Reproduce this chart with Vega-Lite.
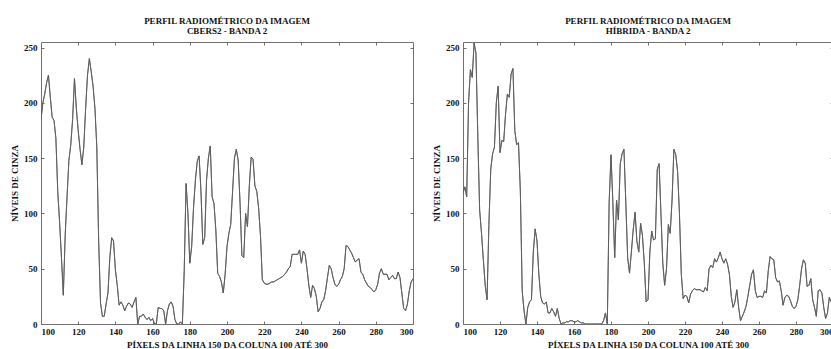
{
  "$schema": "https://vega.github.io/schema/vega-lite/v6.json",
  "padding": {"left": 10, "top": 16, "right": 0, "bottom": 0},
  "background": "white",
  "config": {
    "font": "Liberation Serif",
    "view": {"stroke": "#707070", "strokeWidth": 1},
    "axis": {
      "labelFont": "Liberation Serif",
      "labelFontWeight": "bold",
      "labelFontSize": 9,
      "labelColor": "#111",
      "titleFont": "Liberation Serif",
      "titleFontWeight": "bold",
      "titleFontSize": 9,
      "titleColor": "#111",
      "grid": false,
      "domain": false,
      "tickColor": "#707070",
      "tickSize": 3,
      "offset": -3
    },
    "axisX": {"labelPadding": 3},
    "axisY": {"labelPadding": 4},
    "title": {
      "font": "Liberation Serif",
      "fontWeight": "bold",
      "fontSize": 9,
      "color": "#111",
      "lineHeight": 10,
      "offset": 6
    }
  },
  "data": {"values": [
    {"p":100,"cbers":185,"hib":118},{"p":101,"cbers":200,"hib":124},{"p":102,"cbers":208,"hib":115},{"p":103,"cbers":218,"hib":200},{"p":104,"cbers":225,"hib":230},
    {"p":105,"cbers":205,"hib":223},{"p":106,"cbers":187,"hib":254},{"p":107,"cbers":184,"hib":245},{"p":108,"cbers":168,"hib":170},{"p":109,"cbers":120,"hib":103},
    {"p":110,"cbers":92,"hib":82},{"p":111,"cbers":60,"hib":58},{"p":112,"cbers":26,"hib":35},{"p":113,"cbers":80,"hib":22},{"p":114,"cbers":115,"hib":90},
    {"p":115,"cbers":148,"hib":140},{"p":116,"cbers":162,"hib":154},{"p":117,"cbers":185,"hib":160},{"p":118,"cbers":222,"hib":200},{"p":119,"cbers":195,"hib":215},
    {"p":120,"cbers":175,"hib":155},{"p":121,"cbers":158,"hib":166},{"p":122,"cbers":144,"hib":165},{"p":123,"cbers":160,"hib":190},{"p":124,"cbers":195,"hib":208},
    {"p":125,"cbers":225,"hib":205},{"p":126,"cbers":240,"hib":226},{"p":127,"cbers":228,"hib":231},{"p":128,"cbers":215,"hib":175},{"p":129,"cbers":195,"hib":162},
    {"p":130,"cbers":160,"hib":164},{"p":131,"cbers":75,"hib":120},{"p":132,"cbers":19,"hib":30},{"p":133,"cbers":7,"hib":12},{"p":134,"cbers":7,"hib":0},
    {"p":135,"cbers":18,"hib":15},{"p":136,"cbers":28,"hib":20},{"p":137,"cbers":60,"hib":22},{"p":138,"cbers":78,"hib":65},{"p":139,"cbers":75,"hib":86},
    {"p":140,"cbers":49,"hib":75},{"p":141,"cbers":35,"hib":45},{"p":142,"cbers":17,"hib":25},{"p":143,"cbers":20,"hib":19},{"p":144,"cbers":17,"hib":18},
    {"p":145,"cbers":12,"hib":20},{"p":146,"cbers":16,"hib":10},{"p":147,"cbers":19,"hib":10},{"p":148,"cbers":18,"hib":14},{"p":149,"cbers":15,"hib":11},
    {"p":150,"cbers":20,"hib":7},{"p":151,"cbers":24,"hib":14},{"p":152,"cbers":0,"hib":5},{"p":153,"cbers":7,"hib":0},{"p":154,"cbers":7,"hib":1},
    {"p":155,"cbers":9,"hib":1},{"p":156,"cbers":6,"hib":2},{"p":157,"cbers":4,"hib":2},{"p":158,"cbers":6,"hib":3},{"p":159,"cbers":3,"hib":3},
    {"p":160,"cbers":5,"hib":2},{"p":161,"cbers":0,"hib":2},{"p":162,"cbers":0,"hib":3},{"p":163,"cbers":15,"hib":2},{"p":164,"cbers":14,"hib":1},
    {"p":165,"cbers":14,"hib":1},{"p":166,"cbers":12,"hib":0},{"p":167,"cbers":0,"hib":0},{"p":168,"cbers":12,"hib":0},{"p":169,"cbers":18,"hib":0},
    {"p":170,"cbers":20,"hib":0},{"p":171,"cbers":16,"hib":0},{"p":172,"cbers":4,"hib":0},{"p":173,"cbers":0,"hib":0},{"p":174,"cbers":0,"hib":0},
    {"p":175,"cbers":2,"hib":0},{"p":176,"cbers":0,"hib":3},{"p":177,"cbers":48,"hib":10},{"p":178,"cbers":127,"hib":0},{"p":179,"cbers":100,"hib":110},
    {"p":180,"cbers":55,"hib":153},{"p":181,"cbers":70,"hib":110},{"p":182,"cbers":105,"hib":60},{"p":183,"cbers":130,"hib":112},{"p":184,"cbers":147,"hib":94},
    {"p":185,"cbers":152,"hib":145},{"p":186,"cbers":120,"hib":154},{"p":187,"cbers":72,"hib":158},{"p":188,"cbers":78,"hib":110},{"p":189,"cbers":130,"hib":60},
    {"p":190,"cbers":150,"hib":46},{"p":191,"cbers":161,"hib":65},{"p":192,"cbers":115,"hib":85},{"p":193,"cbers":109,"hib":101},{"p":194,"cbers":85,"hib":75},
    {"p":195,"cbers":46,"hib":65},{"p":196,"cbers":43,"hib":91},{"p":197,"cbers":38,"hib":80},{"p":198,"cbers":28,"hib":55},{"p":199,"cbers":45,"hib":20},
    {"p":200,"cbers":70,"hib":22},{"p":201,"cbers":82,"hib":65},{"p":202,"cbers":90,"hib":84},{"p":203,"cbers":120,"hib":76},{"p":204,"cbers":150,"hib":77},
    {"p":205,"cbers":158,"hib":140},{"p":206,"cbers":148,"hib":145},{"p":207,"cbers":110,"hib":100},{"p":208,"cbers":62,"hib":55},{"p":209,"cbers":60,"hib":35},
    {"p":210,"cbers":100,"hib":50},{"p":211,"cbers":88,"hib":90},{"p":212,"cbers":125,"hib":82},{"p":213,"cbers":151,"hib":112},{"p":214,"cbers":149,"hib":158},
    {"p":215,"cbers":125,"hib":153},{"p":216,"cbers":120,"hib":138},{"p":217,"cbers":105,"hib":100},{"p":218,"cbers":80,"hib":45},{"p":219,"cbers":40,"hib":23},
    {"p":220,"cbers":37,"hib":26},{"p":221,"cbers":36,"hib":25},{"p":222,"cbers":36,"hib":19},{"p":223,"cbers":37,"hib":27},{"p":224,"cbers":38,"hib":30},
    {"p":225,"cbers":38,"hib":32},{"p":226,"cbers":39,"hib":31},{"p":227,"cbers":40,"hib":31},{"p":228,"cbers":41,"hib":31},{"p":229,"cbers":42,"hib":30},
    {"p":230,"cbers":43,"hib":29},{"p":231,"cbers":45,"hib":33},{"p":232,"cbers":47,"hib":30},{"p":233,"cbers":50,"hib":50},{"p":234,"cbers":52,"hib":53},
    {"p":235,"cbers":63,"hib":51},{"p":236,"cbers":63,"hib":59},{"p":237,"cbers":63,"hib":56},{"p":238,"cbers":63,"hib":60},{"p":239,"cbers":67,"hib":65},
    {"p":240,"cbers":55,"hib":59},{"p":241,"cbers":66,"hib":55},{"p":242,"cbers":63,"hib":59},{"p":243,"cbers":50,"hib":54},{"p":244,"cbers":35,"hib":45},
    {"p":245,"cbers":24,"hib":25},{"p":246,"cbers":35,"hib":15},{"p":247,"cbers":32,"hib":20},{"p":248,"cbers":25,"hib":31},{"p":249,"cbers":11,"hib":15},
    {"p":250,"cbers":14,"hib":3},{"p":251,"cbers":20,"hib":7},{"p":252,"cbers":22,"hib":11},{"p":253,"cbers":30,"hib":16},{"p":254,"cbers":42,"hib":25},
    {"p":255,"cbers":53,"hib":35},{"p":256,"cbers":50,"hib":45},{"p":257,"cbers":42,"hib":49},{"p":258,"cbers":36,"hib":30},{"p":259,"cbers":34,"hib":24},
    {"p":260,"cbers":36,"hib":25},{"p":261,"cbers":40,"hib":25},{"p":262,"cbers":43,"hib":24},{"p":263,"cbers":50,"hib":30},{"p":264,"cbers":71,"hib":28},
    {"p":265,"cbers":70,"hib":48},{"p":266,"cbers":67,"hib":61},{"p":267,"cbers":64,"hib":59},{"p":268,"cbers":60,"hib":58},{"p":269,"cbers":56,"hib":42},
    {"p":270,"cbers":58,"hib":38},{"p":271,"cbers":59,"hib":39},{"p":272,"cbers":47,"hib":30},{"p":273,"cbers":45,"hib":17},{"p":274,"cbers":40,"hib":24},
    {"p":275,"cbers":37,"hib":26},{"p":276,"cbers":34,"hib":25},{"p":277,"cbers":33,"hib":21},{"p":278,"cbers":31,"hib":16},{"p":279,"cbers":29,"hib":14},
    {"p":280,"cbers":31,"hib":16},{"p":281,"cbers":36,"hib":22},{"p":282,"cbers":46,"hib":35},{"p":283,"cbers":50,"hib":50},{"p":284,"cbers":45,"hib":58},
    {"p":285,"cbers":45,"hib":55},{"p":286,"cbers":45,"hib":34},{"p":287,"cbers":40,"hib":35},{"p":288,"cbers":42,"hib":41},{"p":289,"cbers":44,"hib":22},
    {"p":290,"cbers":41,"hib":15},{"p":291,"cbers":41,"hib":7},{"p":292,"cbers":47,"hib":30},{"p":293,"cbers":42,"hib":31},{"p":294,"cbers":28,"hib":28},
    {"p":295,"cbers":14,"hib":15},{"p":296,"cbers":12,"hib":5},{"p":297,"cbers":18,"hib":10},{"p":298,"cbers":30,"hib":24},{"p":299,"cbers":38,"hib":20},
    {"p":300,"cbers":41,"hib":18}
  ]},
  "spacing": 18,
  "hconcat": [
    {
      "width": 372,
      "height": 282,
      "title": {"text": ["PERFIL RADIOMÉTRICO DA IMAGEM", "CBERS2 - BANDA 2"]},
      "layer": [
        {
          "mark": {"type": "line", "color": "#5c5c5c", "strokeWidth": 0.9, "clip": true},
          "encoding": {
            "x": {"field": "p", "type": "quantitative", "scale": {"domain": [100, 300], "nice": false},
                  "axis": {"orient": "bottom", "values": [100,120,140,160,180,200,220,240,260,280,300], "title": "PÍXELS DA LINHA 150 DA COLUNA 100 ATÉ 300", "titlePadding": 4}},
            "y": {"field": "cbers", "type": "quantitative", "scale": {"domain": [0, 255], "nice": false},
                  "axis": {"orient": "left", "values": [0,50,100,150,200,250], "title": "NÍVEIS DE CINZA", "titlePadding": 4}}
          }
        },
        {
          "mark": {"type": "line", "color": "#5c5c5c", "strokeWidth": 0.9, "clip": true},
          "encoding": {
            "x": {"field": "p", "type": "quantitative", "axis": {"orient": "top", "values": [120,140,160,180,200,220,240,260,280], "labels": false, "title": null}},
            "y": {"field": "cbers", "type": "quantitative", "axis": {"orient": "right", "values": [50,100,150,200,250], "labels": false, "title": null}}
          }
        }
      ],
      "resolve": {"axis": {"x": "independent", "y": "independent"}}
    },
    {
      "width": 370,
      "height": 282,
      "title": {"text": ["PERFIL RADIOMÉTRICO DA IMAGEM", "HÍBRIDA - BANDA 2"]},
      "layer": [
        {
          "mark": {"type": "line", "color": "#5c5c5c", "strokeWidth": 0.9, "clip": true},
          "encoding": {
            "x": {"field": "p", "type": "quantitative", "scale": {"domain": [100, 300], "nice": false},
                  "axis": {"orient": "bottom", "values": [100,120,140,160,180,200,220,240,260,280,300], "title": "PÍXELS DA LINHA 150 DA COLUNA 100 ATÉ 300", "titlePadding": 4}},
            "y": {"field": "hib", "type": "quantitative", "scale": {"domain": [0, 255], "nice": false},
                  "axis": {"orient": "left", "values": [0,50,100,150,200,250], "title": "NÍVEIS DE CINZA", "titlePadding": 4}}
          }
        },
        {
          "mark": {"type": "line", "color": "#5c5c5c", "strokeWidth": 0.9, "clip": true},
          "encoding": {
            "x": {"field": "p", "type": "quantitative", "axis": {"orient": "top", "values": [120,140,160,180,200,220,240,260,280], "labels": false, "title": null}},
            "y": {"field": "hib", "type": "quantitative", "axis": {"orient": "right", "values": [50,100,150,200,250], "labels": false, "title": null}}
          }
        }
      ],
      "resolve": {"axis": {"x": "independent", "y": "independent"}}
    }
  ]
}
